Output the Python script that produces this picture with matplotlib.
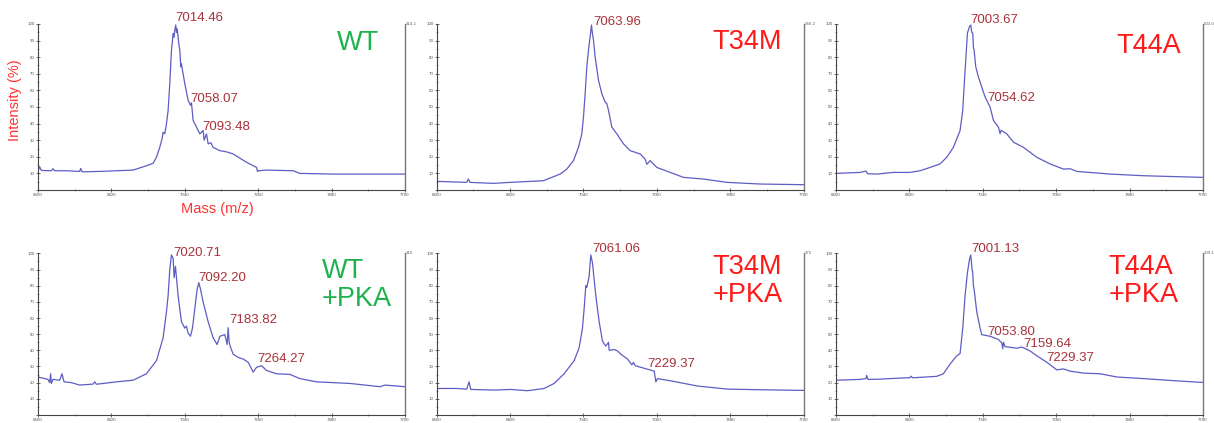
import numpy as np
import matplotlib
matplotlib.use("Agg")
import matplotlib.pyplot as plt
from matplotlib.ticker import MultipleLocator, FixedLocator, FuncFormatter

plt.rcParams['font.family'] = ['Liberation Sans', 'DejaVu Sans']

# ── Spectra (mass m/z, relative intensity %) ──
wt_mass = [6600, 6605, 6610, 6640, 6645, 6650, 6685, 6725, 6728, 6732, 6745, 6785, 6885,
           6925, 6945, 6955, 6965, 6972, 6975, 6980, 6985, 6990, 6995, 7000, 7003, 7005,
           7008, 7010, 7013, 7015, 7017, 7020, 7022, 7025, 7028, 7030, 7033, 7040, 7050,
           7057, 7060, 7065, 7075, 7085, 7095, 7098, 7105, 7110, 7118, 7125, 7145, 7165,
           7185, 7225, 7255, 7258, 7260, 7285, 7365, 7385, 7485, 7700]
wt_int = [11.6, 14.0, 11.8, 11.6, 12.8, 11.6, 11.6, 11.2, 13.0, 11.0, 11.0, 11.2, 12.0,
          14.6, 16.1, 19.7, 25.7, 31.0, 34.8, 33.8, 39.9, 47.9, 64.1, 84.3, 90.0, 94.4,
          92.0, 96.4, 99.4, 95.0, 97.0, 92.3, 88.0, 84.3, 74.2, 76.0, 72.2, 64.1, 54.0,
          51.0, 52.5, 41.9, 37.9, 33.8, 35.8, 30.0, 33.8, 27.8, 28.5, 25.7, 23.7, 23.0,
          21.7, 16.7, 13.6, 11.2, 11.6, 12.0, 11.6, 10.0, 9.6, 9.6]

t34m_mass = [6600, 6690, 6695, 6700, 6770, 6820, 6920, 6970, 6990, 7010, 7025, 7035,
             7040, 7045, 7050, 7055, 7060, 7064, 7067, 7070, 7075, 7085, 7095, 7105, 7110,
             7115, 7125, 7140, 7160, 7180, 7210, 7225, 7230, 7240, 7260, 7300, 7340, 7400,
             7470, 7570, 7700]
t34m_int = [5.2, 4.6, 6.6, 4.6, 4.0, 4.6, 5.6, 9.6, 12.6, 17.7, 25.7, 33.8,
            43.9, 58.0, 74.2, 84.3, 92.3, 99.4, 94.0, 90.3, 80.2, 66.1, 58.0, 53.0, 52.0,
            48.0, 37.9, 33.8, 27.8, 23.7, 21.7, 18.5, 15.5, 17.7, 13.6, 10.6, 7.6, 6.6,
            4.6, 3.6, 3.2]

t44a_mass = [6600, 6672, 6690, 6695, 6722, 6772, 6822, 6852, 6882, 6912, 6932, 6952,
             6972, 6980, 6984, 6989, 6994, 7000, 7004, 7007, 7010, 7012, 7014, 7019,
             7027, 7037, 7047, 7062, 7072, 7087, 7092, 7095, 7112, 7132, 7162, 7182,
             7202, 7242, 7282, 7302, 7322, 7422, 7522, 7700]
t44a_int = [10.0, 10.6, 11.4, 9.8, 9.6, 10.6, 10.6, 11.6, 13.6, 15.7, 19.7, 25.7,
            35.8, 47.9, 62.0, 78.2, 94.4, 98.4, 99.4, 95.0, 94.4, 86.0, 84.3, 74.2,
            68.1, 62.0, 56.0, 50.0, 41.9, 37.9, 34.0, 36.0, 33.8, 28.8, 25.7, 22.7,
            19.7, 15.7, 12.6, 12.8, 11.2, 9.6, 8.6, 7.6]

wtpka_mass = [6600, 6630, 6635, 6638, 6640, 6645, 6665, 6672, 6678, 6700, 6725, 6765,
              6770, 6775, 6835, 6885, 6925, 6955, 6975, 6985, 6990, 6995, 7000, 7005,
              7008, 7012, 7020, 7030, 7040, 7045, 7050, 7057, 7063, 7070, 7077, 7082,
              7087, 7095, 7110, 7125, 7137, 7145, 7160, 7167, 7170, 7173, 7177, 7185,
              7200, 7215, 7230, 7245, 7255, 7270, 7285, 7315, 7355, 7385, 7435, 7535,
              7625, 7640, 7700]
wtpka_int = [23.5, 22.0, 20.0, 25.5, 19.5, 22.0, 21.5, 25.5, 20.5, 20.0, 18.5, 19.1,
             20.5, 19.0, 20.5, 21.5, 25.5, 33.6, 47.7, 63.8, 73.8, 90.0, 99.0, 97.0,
             85.0, 92.0, 73.8, 57.7, 53.7, 55.0, 50.7, 48.7, 53.7, 65.8, 77.9, 81.9,
             77.9, 69.8, 57.7, 47.7, 43.6, 48.7, 49.7, 43.6, 54.0, 45.0, 42.0, 37.6,
             35.6, 34.6, 32.6, 26.5, 29.5, 30.5, 27.5, 25.5, 25.1, 22.5, 20.5, 19.5,
             17.5, 18.5, 17.5]

t34mpka_mass = [6600, 6660, 6690, 6697, 6702, 6772, 6822, 6872, 6922, 6952, 6982, 7012,
                7027, 7037, 7042, 7047, 7050, 7057, 7062, 7067, 7072, 7077, 7087, 7097,
                7107, 7115, 7117, 7132, 7142, 7152, 7172, 7185, 7190, 7195, 7212, 7252,
                7257, 7262, 7302, 7342, 7382, 7472, 7572, 7700]
t34mpka_int = [16.4, 16.4, 16.0, 20.5, 15.8, 15.4, 15.8, 15.0, 16.4, 19.5, 25.5, 33.6,
               41.6, 53.7, 65.8, 80.0, 79.0, 85.9, 99.0, 94.0, 83.9, 73.8, 57.7, 45.6,
               42.6, 45.0, 40.0, 40.5, 39.6, 37.6, 34.6, 31.0, 32.5, 30.5, 29.5, 27.1,
               20.5, 22.5, 21.1, 19.5, 17.9, 16.0, 15.6, 15.2]

t44apka_mass = [6600, 6672, 6690, 6692, 6696, 6722, 6822, 6825, 6830, 6902, 6922, 6942,
                6962, 6972, 6980, 6987, 6994, 7000, 7004, 7008, 7010, 7012, 7014, 7022,
                7032, 7037, 7062, 7087, 7097, 7100, 7102, 7107, 7142, 7157, 7162, 7182,
                7202, 7232, 7252, 7262, 7282, 7302, 7342, 7392, 7442, 7522, 7622, 7700]
t44apka_int = [21.5, 22.0, 22.5, 24.5, 22.0, 22.1, 23.1, 24.0, 23.0, 23.9, 25.5, 31.5,
               36.6, 38.0, 53.7, 73.8, 87.9, 96.0, 99.0, 90.0, 87.9, 80.0, 77.9, 63.8,
               53.7, 49.7, 48.7, 46.7, 44.6, 41.0, 45.0, 42.3, 41.3, 42.0, 41.6, 39.6,
               36.6, 32.6, 29.5, 27.9, 28.5, 27.1, 25.9, 25.5, 23.5, 22.5, 21.1, 20.1]

# ── Labels ──
sample_names = ['WT', 'T34M', 'T44A', 'WT\n+PKA', 'T34M\n+PKA', 'T44A\n+PKA']
sample_colors = ['#1db34c', '#ff1a1a', '#ff1a1a', '#1db34c', '#ff1a1a', '#ff1a1a']
max_counts = ['314.1', '956.2', '603.0', '310', '275', '209.1']
mass_ticks = [6600, 6820, 7040, 7260, 7480, 7700]

peak_labels = [
    [('7014.46', 7013, 103.4), ('7058.07', 7057, 55.0), ('7093.48', 7092, 37.9)],
    [('7063.96', 7068, 101.0)],
    [('7003.67', 7004, 102.4), ('7054.62', 7055, 55.4)],
    [('7020.71', 7007, 100.0), ('7092.20', 7080, 84.9), ('7183.82', 7172, 58.7),
     ('7264.27', 7257, 34.6)],
    [('7061.06', 7067, 102.6), ('7229.37', 7232, 31.5)],
    [('7001.13', 7005, 102.6), ('7053.80', 7055, 51.3), ('7159.64', 7162, 44.0),
     ('7229.37', 7230, 35.0)],
]

spectra = [(wt_mass, wt_int), (t34m_mass, t34m_int), (t44a_mass, t44a_int),
           (wtpka_mass, wtpka_int), (t34mpka_mass, t34mpka_int), (t44apka_mass, t44apka_int)]

# sample name position (mass, intensity, ha)
name_pos = [(7560, 88.3, 'center'), (7530, 89.3, 'center'), (7537, 87.0, 'center'),
            (7450, 80.5, 'left'), (7427, 83.0, 'left'), (7417, 83.0, 'left')]

fig = plt.figure(figsize=(12.14, 4.23), dpi=100)

lefts = [0.0313, 0.3597, 0.6886]
rows = [(0.5508, 0.3925), (0.019, 0.382)]   # (bottom, height)
w = 0.3023

line_col = '#5d5dc4'
peak_col = '#a8323a'

for i, (mass, inten) in enumerate(spectra):
    b, h = rows[i // 3]
    ax = fig.add_axes([lefts[i % 3], b, w, h])
    ax.plot(mass, inten, color=line_col, lw=0.9)
    ax.set_xlim(6600, 7700)
    ax.set_ylim(0, 100)

    ax.xaxis.set_major_locator(FixedLocator(mass_ticks))
    ax.xaxis.set_minor_locator(MultipleLocator(110))
    ax.yaxis.set_major_locator(MultipleLocator(10))
    ax.yaxis.set_minor_locator(MultipleLocator(5))
    ax.yaxis.set_major_formatter(FuncFormatter(lambda v, p: '' if v <= 0 else f'{v:.0f}'))
    ax.tick_params(axis='both', which='major', labelsize=3.2, length=2.5, width=0.6,
                   direction='inout', colors='#555555', pad=1)
    ax.tick_params(axis='both', which='minor', length=1.5, width=0.5,
                   direction='inout', colors='#777777')

    ax.spines['top'].set_visible(False)
    for s in ['left', 'bottom']:
        ax.spines[s].set_color('#444444')
        ax.spines[s].set_linewidth(0.8)
    ax.spines['right'].set_color('#777777')
    ax.spines['right'].set_linewidth(1.0)

    ax.text(1.003, 1.0, max_counts[i], transform=ax.transAxes, fontsize=3.2,
            color='#666666', ha='left', va='center')

    for txt, mx, my in peak_labels[i]:
        ax.text(mx, my, txt, color=peak_col, fontsize=9.5, ha='left', va='center',
                clip_on=False)

    nx, ny, ha = name_pos[i]
    ax.text(nx, ny, sample_names[i], color=sample_colors[i], fontsize=19.5,
            ha=ha, va='center', multialignment='left', linespacing=1.1)

fig.text(0.0124, 0.764, 'Intensity (%)', color='#ff3333', fontsize=10.5,
         rotation=90, ha='center', va='center')
fig.text(0.179, 0.506, 'Mass (m/z)', color='#ff3333', fontsize=10.5,
         ha='center', va='center')

fig.savefig('out.png', dpi=100)
